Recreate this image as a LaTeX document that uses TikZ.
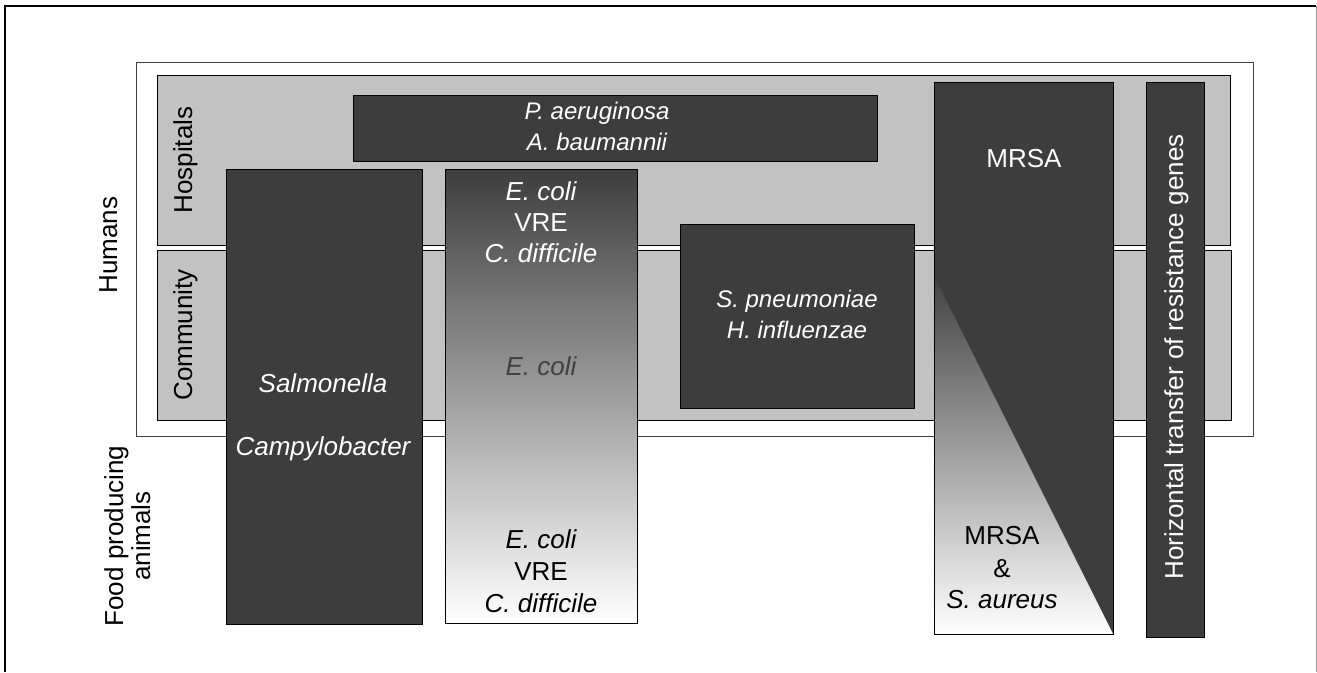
\documentclass[tikz,border=0pt]{standalone}
\usepackage{fontspec}
\setmainfont{Liberation Sans}
\definecolor{bandgray}{gray}{0.76}
\definecolor{boxgray}{gray}{0.24}
\begin{document}
\begin{tikzpicture}[x=1pt,y=-1pt,
  band/.style={fill=bandgray, draw=black, line width=1pt},
  darkbox/.style={fill=boxgray, draw=black, line width=0.8pt},
  lbl/.style={font=\fontsize{26}{31}\selectfont, inner sep=0pt},
  slbl/.style={font=\fontsize{24}{31}\selectfont, inner sep=0pt},
  wt/.style={lbl, text=white, anchor=base},
  bt/.style={lbl, text=black, anchor=base},
  swt/.style={slbl, text=white, anchor=base},
]
\useasboundingbox (0,0) rectangle (1317,672);
% outer frame
\draw[line width=2pt] (5,672) -- (5,6) -- (1316,6);
\draw[line width=0.5pt, black!40] (1316,6) -- (1316,672);
% humans frame and bands
\draw[fill=white, draw=black!75, line width=1pt] (136,62) rectangle (1253,436);
\draw[band] (157,75) rectangle (1230,245);
\draw[band] (157,250) rectangle (1231,420);
% boxes
\draw[darkbox] (353,95) rectangle (877,161);
\draw[darkbox] (226,169) rectangle (422,624);
\shade[top color=boxgray, middle color=black!50, bottom color=white] (445,169) rectangle (637,623);
\draw[line width=0.8pt] (445,169) rectangle (637,623);
\draw[darkbox] (680,224) rectangle (914,408);
\draw[darkbox] (934,82) rectangle (1113,634);
\shade[top color=black!74, middle color=black!50, bottom color=white] (934,276) -- (1113,634) -- (934,634) -- cycle;
\draw[line width=0.8pt] (934,82) rectangle (1113,634);
\draw[darkbox] (1146,82) rectangle (1204,637);
% texts
\node[swt] (pa) at (597,119) {\itshape P. aeruginosa};
\node[swt] (ab) at (597,150) {\itshape A. baumannii};
\node[wt] (sal) at (323,392) {\itshape Salmonella};
\node[wt] (cam) at (323,455) {\itshape Campylobacter};
\node[wt] (ec1) at (541,200) {\itshape E. coli};
\node[wt] (vre1) at (541,231) {VRE};
\node[wt] (cd1) at (541,262) {\itshape C. difficile};
\node[bt, text=black!75] (ec2) at (541,375) {\itshape E. coli};
\node[bt] (ec3) at (541,548) {\itshape E. coli};
\node[bt] (vre3) at (541,580) {VRE};
\node[bt] (cd3) at (541,612) {\itshape C. difficile};
\node[swt] (sp) at (797,307) {\itshape S. pneumoniae};
\node[swt] (hi) at (797,338) {\itshape H. influenzae};
\node[wt] (mrsa1) at (1024,167) {MRSA};
\node[bt] (mrsa2) at (1002,544) {MRSA};
\node[bt] (amp) at (1002,577) {\&};
\node[bt] (sa) at (1002,608) {\itshape S. aureus};
\node[wt, rotate=90] (hgt) at (1183,357) {Horizontal transfer of resistance genes};
\node[bt, rotate=90] (hum) at (117,245) {Humans};
\node[bt, rotate=90] (hosp) at (192,160) {Hospitals};
\node[bt, rotate=90] (comm) at (192,335) {Community};
\node[bt, rotate=90] (food) at (123,536) {Food producing};
\node[bt, rotate=90] (anim) at (150,536) {animals};
\end{tikzpicture}
\end{document}
